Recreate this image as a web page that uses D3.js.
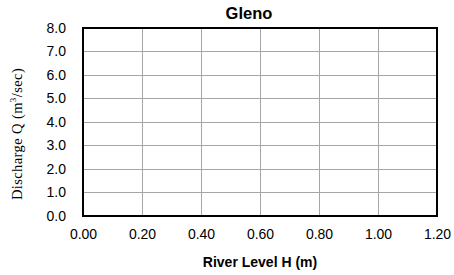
<!DOCTYPE html>
<html>
<head>
<meta charset="utf-8">
<script src="https://cdn.jsdelivr.net/npm/d3@7"></script>
<style>
  body { margin: 0; background: #fff; }
  svg { display: block; }
</style>
</head>
<body>
<svg id="chart" width="454" height="275"></svg>
<script>
// chart data (the chart is an empty grid)
var chartTitle = "Gleno";
var xDomain = [0, 1.2];
var yDomain = [0, 8];
var xTicks = [0, 0.2, 0.4, 0.6, 0.8, 1.0, 1.2];
var yTicks = [0, 1, 2, 3, 4, 5, 6, 7, 8];
var xLabel = "River Level H (m)";

var margin = {left: 83, top: 28, right: 17, bottom: 59};
var W = 454, H = 275;
var w = W - margin.left - margin.right;
var h = H - margin.top - margin.bottom;

var svg = d3.select("#chart");
var g = svg.append("g").attr("transform", "translate(" + margin.left + "," + margin.top + ")");

var x = d3.scaleLinear().domain(xDomain).range([0, w]);
var y = d3.scaleLinear().domain(yDomain).range([h, 0]);

// gridlines
g.append("g")
  .selectAll("line.vg")
  .data(xTicks.slice(1, -1))
  .enter().append("line")
  .attr("x1", d => x(d)).attr("x2", d => x(d))
  .attr("y1", 0).attr("y2", h)
  .style("stroke", "#a6a6a6").style("stroke-width", 1)
  .attr("shape-rendering", "crispEdges");

g.append("g")
  .selectAll("line.hg")
  .data(yTicks.slice(1, -1))
  .enter().append("line")
  .attr("x1", 0).attr("x2", w)
  .attr("y1", d => y(d)).attr("y2", d => y(d))
  .style("stroke", "#a6a6a6").style("stroke-width", 1)
  .attr("shape-rendering", "crispEdges");

// border
g.append("rect")
  .attr("x", 0).attr("y", 0).attr("width", w).attr("height", h)
  .style("fill", "none").style("stroke", "#000").style("stroke-width", 1.3)
  .attr("shape-rendering", "crispEdges");

// axes
var xAxis = g.append("g").attr("transform", "translate(0," + h + ")")
  .call(d3.axisBottom(x).tickValues(xTicks).tickFormat(d3.format(".2f")).tickSize(0).tickPadding(13));
var yAxis = g.append("g")
  .call(d3.axisLeft(y).tickValues(yTicks).tickFormat(d3.format(".1f")).tickSize(0).tickPadding(17));

[xAxis, yAxis].forEach(function(a) {
  a.select(".domain").remove();
  a.selectAll("text")
    .style("font-family", "'Liberation Sans', Arial, sans-serif")
    .style("font-size", "14px")
    .style("fill", "#000");
});

// title
svg.append("text")
  .attr("x", 249).attr("y", 19)
  .attr("text-anchor", "middle")
  .style("font-family", "'Liberation Sans', Arial, sans-serif")
  .style("font-weight", "bold")
  .style("font-size", "16.5px")
  .text(chartTitle);

// x axis title
svg.append("text")
  .attr("x", 260).attr("y", 267)
  .attr("text-anchor", "middle")
  .style("font-family", "'Liberation Sans', Arial, sans-serif")
  .style("font-weight", "bold")
  .style("font-size", "14px")
  .text(xLabel);

// y axis title (serif, with superscript)
var yt = svg.append("text")
  .attr("transform", "translate(22,134) rotate(-90)")
  .attr("text-anchor", "middle")
  .style("font-family", "'Liberation Serif', 'Times New Roman', serif")
  .style("font-size", "14.5px")
  .style("letter-spacing", "0.4px");
yt.append("tspan").text("Discharge Q (m");
yt.append("tspan").attr("dy", -6).style("font-size", "9px").text("3");
yt.append("tspan").attr("dy", 6).text("/sec)");
</script>
</body>
</html>
